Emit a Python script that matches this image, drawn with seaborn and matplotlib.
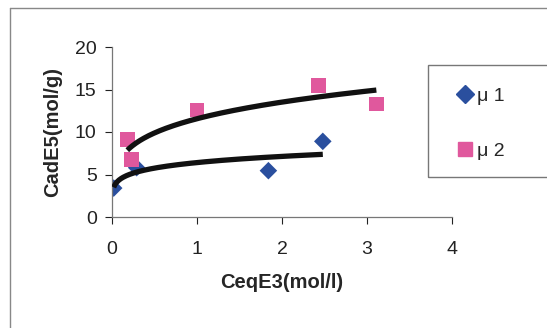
import numpy as np
import seaborn as sns
import matplotlib.pyplot as plt
from matplotlib.patches import Rectangle
from matplotlib.lines import Line2D

# data
mu1_x = [0.02, 0.29, 1.84, 2.48]
mu1_y = [3.4, 5.8, 5.45, 8.9]
mu2_x = [0.18, 0.23, 1.0, 2.43, 3.11]
mu2_y = [9.1, 6.75, 12.6, 15.45, 13.3]
x_ticks = [0, 1, 2, 3, 4]
y_ticks = [0, 5, 10, 15, 20]

sns.set_style("white")
plt.rcParams['font.family'] = ['Liberation Sans', 'DejaVu Sans']

blue = "#2A4F9E"
pink = "#E0589D"

fig = plt.figure(figsize=(5.47, 3.28), dpi=100)
fig.patch.set_facecolor("white")
ax = fig.add_axes([112/547, 1 - 217/328, 340/547, 170/328])

sns.scatterplot(x=mu1_x, y=mu1_y, marker="D", color=blue, s=80, edgecolor="none", ax=ax, zorder=2)
sns.scatterplot(x=mu2_x, y=mu2_y, marker="s", color=pink, s=110, edgecolor="none", ax=ax, zorder=2)

# power trendlines (Excel style, fitted on log-log)
def power_fit(xs, ys):
    b, ln_a = np.polyfit(np.log(xs), np.log(ys), 1)
    xx = np.linspace(min(xs), max(xs), 200)
    return xx, np.exp(ln_a) * xx ** b

for xs, ys in [(mu1_x, mu1_y), (mu2_x, mu2_y)]:
    xx, yy = power_fit(xs, ys)
    ax.plot(xx, yy, color="#111111", lw=3.8, solid_capstyle="butt", zorder=3)

ax.set_xlim(0, 4)
ax.set_ylim(0, 20)
ax.set_xticks(x_ticks)
ax.set_yticks(y_ticks)
ax.tick_params(axis="both", labelsize=14, colors="#222222", length=5, width=0.8,
               direction="out", bottom=True, left=True)
ax.tick_params(axis="x", pad=12)
ax.tick_params(axis="y", pad=6)
for s in ["top", "right"]:
    ax.spines[s].set_visible(False)
for s in ["left", "bottom"]:
    ax.spines[s].set_color("#777777")
    ax.spines[s].set_linewidth(0.9)

ax.set_xlabel("CeqE3(mol/l)", fontsize=14.5, fontweight="bold", labelpad=11)
ax.set_ylabel("CadE5(mol/g)", fontsize=14.5, fontweight="bold", labelpad=9)

# outer chart border
fig.add_artist(Line2D([10/547, 10/547], [0, 1 - 8/328], transform=fig.transFigure, color="#888888", lw=1))
fig.add_artist(Line2D([10/547, 1], [1 - 8/328, 1 - 8/328], transform=fig.transFigure, color="#888888", lw=1))

# legend box
fig.add_artist(Rectangle((428/547, 1 - 177/328), 130/547, 112/328, transform=fig.transFigure,
                         fill=False, edgecolor="#777777", lw=1))
handles = [Line2D([], [], marker="D", color=blue, ls="none", markersize=9),
           Line2D([], [], marker="s", color=pink, ls="none", markersize=10.5)]
fig.legend(handles, ["μ 1", "μ 2"], loc="upper left", bbox_to_anchor=(436/547, 1 - 70/328),
           frameon=False, fontsize=14, labelspacing=1.9, handletextpad=0.0, handlelength=1.2)

fig.savefig("out.png", dpi=100)
